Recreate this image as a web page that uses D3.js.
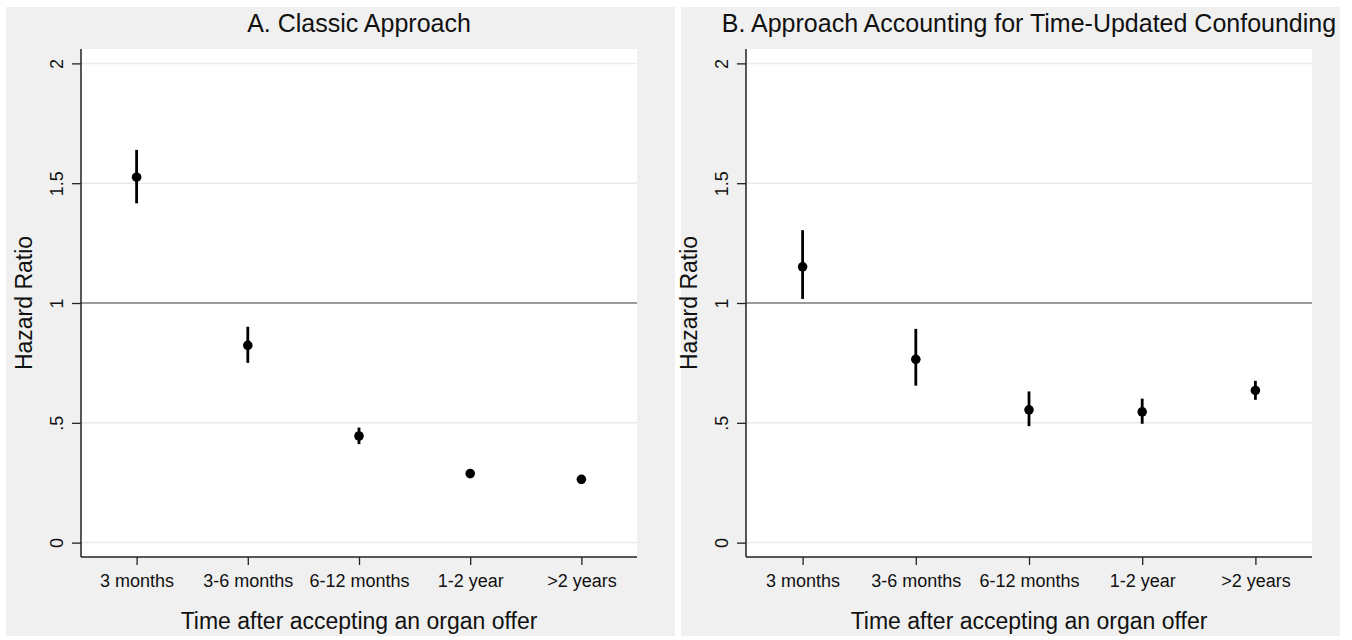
<!DOCTYPE html>
<html>
<head>
<meta charset="utf-8">
<script src="https://cdn.jsdelivr.net/npm/d3@7"></script>
<style>
  body { margin: 0; background: #fff; }
  text { font-family: "Liberation Sans", Arial, sans-serif; fill: #111; }
</style>
</head>
<body>
<div id="chart"></div>
<script>
const width = 1352;
const height = 640;

// data
const categories = ["3 months", "3-6 months", "6-12 months", "1-2 year", ">2 years"];
const titles = ["A. Classic Approach", "B. Approach Accounting for Time-Updated Confounding"];
const yTicks = [0, 0.5, 1, 1.5, 2];
const yTickLabels = ["0", ".5", "1", "1.5", "2"];

const estA = [1.525, 0.823, 0.445, 0.288, 0.264];
const loA  = [1.416, 0.750, 0.411, 0.272, 0.250];
const hiA  = [1.639, 0.901, 0.480, 0.305, 0.279];

const estB = [1.151, 0.765, 0.554, 0.546, 0.635];
const loB  = [1.017, 0.655, 0.486, 0.496, 0.596];
const hiB  = [1.304, 0.892, 0.631, 0.601, 0.675];

const svg = d3.select("#chart")
  .append("svg")
  .attr("width", width)
  .attr("height", height);

svg.append("rect").attr("width", width).attr("height", height).attr("fill", "#fff");

// panel layout: outer gray box and plot region
const panels = [
  { title: titles[0], est: estA, lo: loA, hi: hiA, bg: [6, 675], x0: 81, x1: 637 },
  { title: titles[1], est: estB, lo: loB, hi: hiB, bg: [681, 1340], x0: 746, x1: 1312 }
];

const plotTop = 49;
const plotBottom = 557;

const y = d3.scaleLinear()
  .domain([-0.06, 2.06])
  .range([plotBottom, plotTop]);

panels.forEach(p => {
  const g = svg.append("g");

  g.append("rect")
    .attr("x", p.bg[0])
    .attr("y", 7)
    .attr("width", p.bg[1] - p.bg[0])
    .attr("height", 629)
    .attr("fill", "#f0f0f0");

  g.append("rect")
    .attr("x", p.x0)
    .attr("y", plotTop)
    .attr("width", p.x1 - p.x0)
    .attr("height", plotBottom - plotTop)
    .attr("fill", "#fff");

  const x = d3.scalePoint()
    .domain(categories)
    .range([p.x0, p.x1])
    .padding(0.5);

  // gridlines
  g.selectAll(".grid")
    .data(yTicks.filter(d => d !== 1))
    .enter()
    .append("line")
    .attr("x1", p.x0)
    .attr("x2", p.x1)
    .attr("y1", d => y(d))
    .attr("y2", d => y(d))
    .attr("stroke", "#eaeaea")
    .attr("stroke-width", 1.5);

  // reference line at HR = 1
  g.append("line")
    .attr("x1", p.x0)
    .attr("x2", p.x1)
    .attr("y1", y(1))
    .attr("y2", y(1))
    .attr("stroke", "#7a7a7a")
    .attr("stroke-width", 1.6);

  // y axis
  const yAxis = g.append("g")
    .attr("transform", `translate(${p.x0},0)`)
    .call(d3.axisLeft(y).tickValues(yTicks).tickSize(9).tickFormat((d, i) => yTickLabels[i]));
  yAxis.select(".domain").remove();
  yAxis.append("line")
    .attr("y1", plotTop).attr("y2", plotBottom)
    .attr("stroke", "#222").attr("stroke-width", 1.5);
  yAxis.selectAll(".tick line").attr("stroke", "#222").attr("stroke-width", 1.3);
  yAxis.selectAll(".tick text")
    .attr("transform", "rotate(-90)")
    .attr("x", 0)
    .attr("y", -18)
    .attr("dy", 0)
    .attr("text-anchor", "middle")
    .attr("fill", "#111")
    .style("font-size", "18px");

  // x axis
  const xAxis = g.append("g")
    .attr("transform", `translate(0,${plotBottom})`)
    .call(d3.axisBottom(x).tickSize(8));
  xAxis.select(".domain").remove();
  xAxis.append("line")
    .attr("x1", p.x0).attr("x2", p.x1)
    .attr("stroke", "#222").attr("stroke-width", 1.5);
  xAxis.selectAll(".tick line").attr("stroke", "#222").attr("stroke-width", 1.3);
  xAxis.selectAll(".tick text")
    .attr("y", 30)
    .attr("dy", 0)
    .attr("fill", "#111")
    .style("font-size", "18px");

  // confidence intervals
  g.selectAll(".ci")
    .data(categories)
    .enter()
    .append("line")
    .attr("x1", d => x(d))
    .attr("x2", d => x(d))
    .attr("y1", (d, i) => y(p.lo[i]))
    .attr("y2", (d, i) => y(p.hi[i]))
    .attr("stroke", "#000")
    .attr("stroke-width", 2.8);

  // point estimates
  g.selectAll(".pt")
    .data(categories)
    .enter()
    .append("circle")
    .attr("cx", d => x(d))
    .attr("cy", (d, i) => y(p.est[i]))
    .attr("r", 4.8)
    .attr("fill", "#000");

  const cx = (p.x0 + p.x1) / 2;

  g.append("text")
    .attr("x", cx)
    .attr("y", 32)
    .attr("text-anchor", "middle")
    .style("font-size", "25px")
    .text(p.title);

  g.append("text")
    .attr("x", cx)
    .attr("y", 629)
    .attr("text-anchor", "middle")
    .style("font-size", "23px")
    .text("Time after accepting an organ offer");

  g.append("text")
    .attr("transform", `translate(${p.x0 - 49},${(plotTop + plotBottom) / 2}) rotate(-90)`)
    .attr("text-anchor", "middle")
    .style("font-size", "23px")
    .text("Hazard Ratio");
});
</script>
</body>
</html>
